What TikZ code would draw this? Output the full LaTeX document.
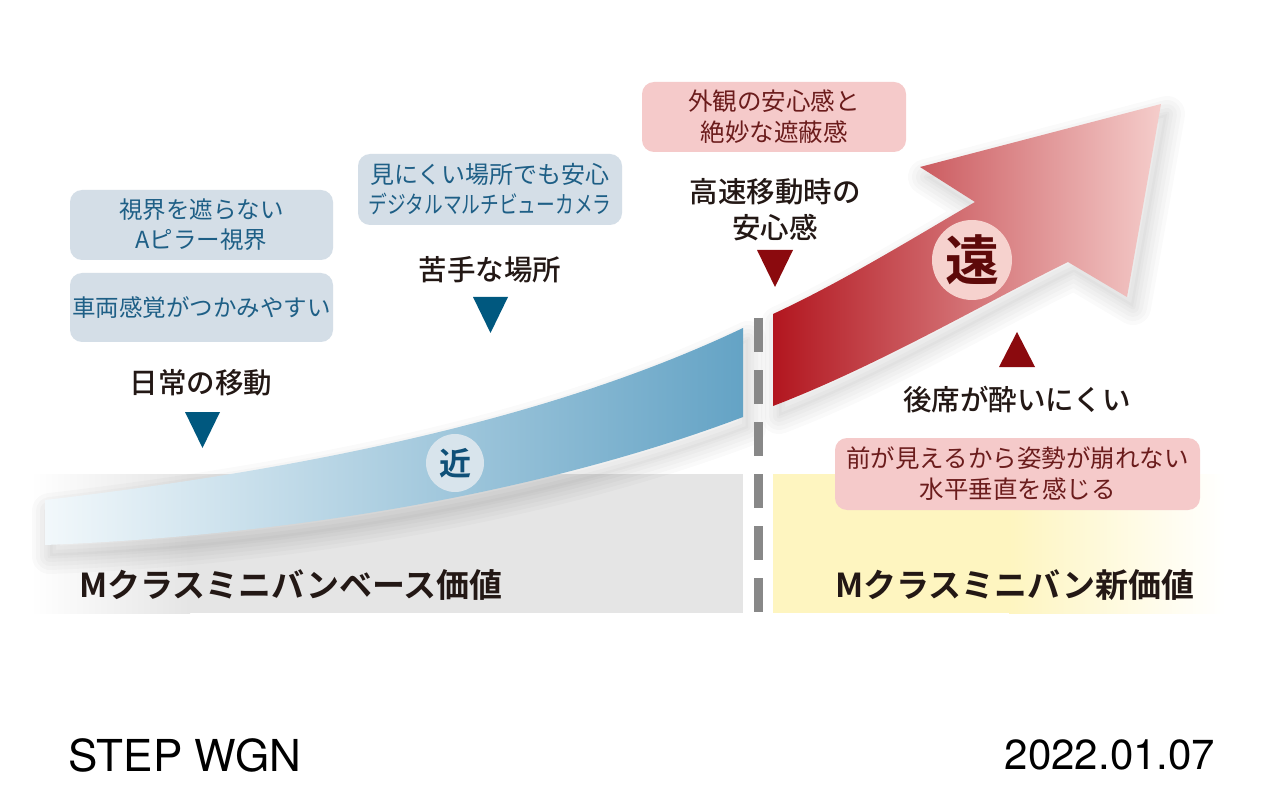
\documentclass[tikz,border=0pt]{standalone}
\usepackage{fontspec}
\setmainfont{Noto Sans CJK JP}
\newfontfamily\jpb{Noto Sans CJK JP Bold}
\newfontfamily\jpm{Noto Sans CJK JP Medium}
\newfontfamily\helv{TeX Gyre Heros}
\definecolor{boxB}{HTML}{D4DEE7}
\definecolor{txtB}{HTML}{1E5F86}
\definecolor{boxP}{HTML}{F5CACA}
\definecolor{txtP}{HTML}{6B1C1C}
\definecolor{ink}{HTML}{231815}
\definecolor{triB}{HTML}{00587F}
\definecolor{triR}{HTML}{8B0A0E}
\definecolor{cirB}{HTML}{D8E4EC}
\definecolor{cirBt}{HTML}{0F5078}
\definecolor{cirR}{HTML}{F6D2CE}
\definecolor{cirRt}{HTML}{5E0A0A}
\definecolor{grayR}{HTML}{E5E5E5}
\definecolor{yelY}{HTML}{FEF5C0}
\definecolor{dashG}{HTML}{888888}
\definecolor{blueL}{HTML}{F2F8FB}
\definecolor{blueM}{HTML}{AFD1E2}
\definecolor{blueR}{HTML}{64A3C5}
\definecolor{redL}{HTML}{B2161F}
\definecolor{redM}{HTML}{DE8E90}
\definecolor{redR}{HTML}{F5CDCB}
\newcommand\myBluePath{(45,500) .. controls (300,470) and (550,420) .. (743,328) -- (743,417)
  .. controls (550,490) and (300,535) .. (45,545) -- cycle}
\newcommand\myRedPath{(773,314) .. controls (840,283) and (910,240) .. (975,202) -- (920,167) -- (1161,104)
  -- (1127,297) -- (1068,262) .. controls (990,300) and (880,365) .. (773,406) -- cycle}
\begin{document}
\begin{tikzpicture}[x=1pt,y=-1pt,
  bluebox/.style={fill=boxB, rounded corners=12pt, text=txtB, align=center, inner sep=0pt,
    font=\fontsize{23.5}{30}\selectfont},
  pinkbox/.style={fill=boxP, rounded corners=12pt, text=txtP, align=center, inner sep=0pt,
    font=\fontsize{24.5}{31}\selectfont},
  lbl/.style={text=ink, align=center, inner sep=0pt, font=\jpm\fontsize{28.5}{36}\selectfont},
  biglbl/.style={text=ink, inner sep=0pt, font=\jpb\fontsize{33}{40}\selectfont},
  triBlue/.style={fill=triB},
  triRed/.style={fill=triR},
  dashline/.style={draw=dashG, line width=9pt, dash pattern=on 34pt off 18pt},
  stamp/.style={text=black, inner sep=0pt, font=\helv\fontsize{44}{50}\selectfont},
  softline/.style={draw=black, line join=round, draw opacity=0.018, line width=#1},
  softfill/.style={fill=black, fill opacity=0.02}
]
\useasboundingbox (0,0) rectangle (1280,786);
\fill[white] (0,0) rectangle (1280,786);

% base areas
\fill[left color=white, right color=grayR] (30,474) rectangle (190,613);
\fill[grayR] (189,474) rectangle (743,613);
\fill[yelY] (773,474) rectangle (1010,613);
\fill[left color=yelY, right color=white] (1009,474) rectangle (1225,613);

% soft shadows
\begin{scope}[shift={(5,11)}]
  \path[softfill] \myBluePath;
  \foreach \w in {36,28,20,12,5} { \path[softline=\w pt] \myBluePath; }
\end{scope}
\begin{scope}[shift={(6,10)}]
  \path[softfill] \myRedPath;
  \foreach \w in {36,28,20,12,5} { \path[softline=\w pt] \myRedPath; }
\end{scope}

% blue band
\path[left color=blueL, middle color=blueM, right color=blueR] \myBluePath;

% red arrow
\path[left color=redL, middle color=redM, right color=redR] \myRedPath;

% dashed divider
\coordinate (dtop) at (758.5,318);
\coordinate (dbot) at (758.5,613);
\draw[dashline] (dtop) -- (dbot);

% boxes
\node[bluebox, minimum width=263pt, minimum height=70pt] (b1) at (201.5,225) {視界を遮らない\\Aピラー視界};
\node[bluebox, minimum width=263pt, minimum height=69pt] (b2) at (201.5,307.5) {車両感覚がつかみやすい};
\node[bluebox, minimum width=264pt, minimum height=71pt, font=\fontsize{24}{30}\selectfont] (b3) at (490,189.5)
  {見にくい場所でも安心\\\scalebox{0.78}[1]{デジタルマルチビューカメラ}};
\node[pinkbox, minimum width=264pt, minimum height=70pt] (p1) at (774,117) {外観の安心感と\\絶妙な遮蔽感};
\node[pinkbox, minimum width=365pt, minimum height=72pt] (p2) at (1017.5,474) {前が見えるから姿勢が崩れない\\水平垂直を感じる};

% labels
\node[lbl] (l1) at (201,383) {日常の移動};
\node[lbl] (l2) at (490,270) {苦手な場所};
\node[lbl] (l3) at (775,210) {高速移動時の\\安心感};
\node[lbl] (l4) at (1017,400) {後席が酔いにくい};

% triangles
\fill[triBlue] (185,412) -- (220,412) -- (202.5,448) -- cycle;
\fill[triBlue] (473,297) -- (508,297) -- (490.5,333) -- cycle;
\fill[triRed] (757,250) -- (793,250) -- (775,287) -- cycle;
\fill[triRed] (999,367) -- (1035,367) -- (1017,332) -- cycle;

% circles
\node[circle, fill=cirB, minimum size=58pt, inner sep=0pt, text=cirBt, font=\jpb\fontsize{32}{32}\selectfont] (near) at (455,463) {近};
\node[circle, fill=cirR, minimum size=80pt, inner sep=0pt, text=cirRt, font=\jpb\fontsize{54}{54}\selectfont] (far) at (972,260) {遠};

% base labels
\node[biglbl] (base) at (291,585) {Mクラスミニバンベース価値};
\node[biglbl] (new) at (1015,585) {Mクラスミニバン新価値};

% footer
\node[stamp] (model) at (185,755) {STEP WGN};
\node[stamp, font=\helv\fontsize{42}{50}\selectfont] (date) at (1110,755) {2022.01.07};
\end{tikzpicture}
\end{document}
